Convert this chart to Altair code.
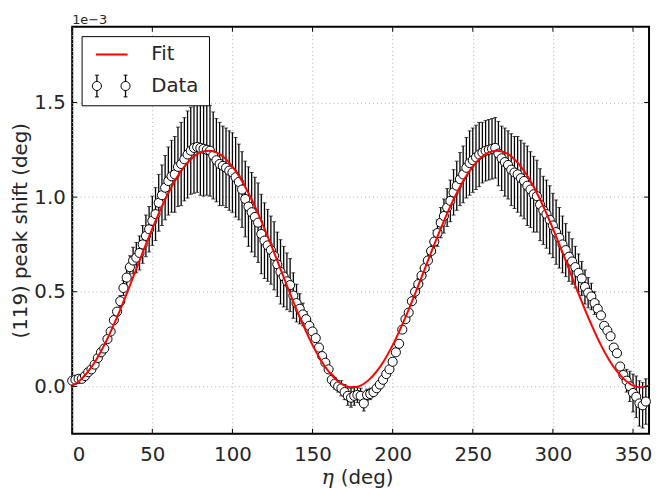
import altair as alt
import pandas as pd

# measured positions (deg)
eta = list(range(0, 360, 2))
# peak shift, units of 1e-3 deg
shift = [
    0.03, 0.035, 0.04, 0.04, 0.055, 0.075, 0.09, 0.115, 0.15, 0.18,
    0.2, 0.25, 0.29, 0.35, 0.395, 0.45, 0.52, 0.575, 0.63, 0.665,
    0.68, 0.705, 0.75, 0.795, 0.83, 0.875, 0.91, 0.97, 1.01, 1.05,
    1.085, 1.11, 1.12, 1.16, 1.175, 1.2, 1.225, 1.245, 1.26, 1.265,
    1.26, 1.255, 1.25, 1.245, 1.22, 1.195, 1.175, 1.165, 1.155, 1.14,
    1.13, 1.105, 1.08, 1.04, 0.99, 0.95, 0.92, 0.895, 0.865, 0.805,
    0.77, 0.745, 0.72, 0.69, 0.645, 0.605, 0.58, 0.555, 0.535, 0.48,
    0.44, 0.41, 0.38, 0.355, 0.32, 0.29, 0.255, 0.205, 0.16, 0.125,
    0.09, 0.035, 0.015, 0.0, -0.01, -0.03, -0.05, -0.06, -0.05, -0.045,
    -0.05, -0.09, -0.045, -0.04, -0.03, -0.01, 0.01, 0.035, 0.065, 0.09,
    0.13, 0.18, 0.225, 0.3, 0.355, 0.39, 0.45, 0.5, 0.54, 0.585,
    0.625, 0.665, 0.715, 0.765, 0.81, 0.865, 0.9, 0.945, 0.98, 1.025,
    1.06, 1.095, 1.12, 1.155, 1.18, 1.195, 1.21, 1.225, 1.235, 1.245,
    1.25, 1.255, 1.26, 1.23, 1.205, 1.185, 1.17, 1.145, 1.13, 1.12,
    1.1, 1.085, 1.06, 1.04, 1.015, 1.005, 0.96, 0.93, 0.91, 0.88,
    0.85, 0.815, 0.785, 0.75, 0.72, 0.685, 0.66, 0.63, 0.6, 0.57,
    0.525, 0.495, 0.475, 0.44, 0.41, 0.375, 0.32, 0.295, 0.265, 0.205,
    0.175, 0.105, 0.06, 0.03, 0.0, -0.035, -0.055, -0.09, -0.1, -0.08,
]
err = [
    0.01, 0.01, 0.01, 0.01, 0.01, 0.01, 0.01, 0.01, 0.01, 0.01,
    0.015, 0.015, 0.02, 0.02, 0.02, 0.03, 0.04, 0.05, 0.06, 0.07,
    0.08, 0.09, 0.1, 0.11, 0.12, 0.13, 0.14, 0.15, 0.16, 0.17,
    0.18, 0.19, 0.2, 0.21, 0.22, 0.22, 0.23, 0.23, 0.24, 0.24,
    0.25, 0.25, 0.24, 0.24, 0.23, 0.22, 0.22, 0.21, 0.21, 0.21,
    0.21, 0.21, 0.2, 0.2, 0.2, 0.21, 0.21, 0.21, 0.21, 0.21,
    0.2, 0.19, 0.18, 0.18, 0.17, 0.17, 0.16, 0.15, 0.14, 0.12,
    0.1, 0.08, 0.06, 0.04, 0.03, 0.02, 0.02, 0.02, 0.02, 0.02,
    0.02, 0.03, 0.03, 0.03, 0.04, 0.04, 0.05, 0.05, 0.05, 0.04,
    0.04, 0.04, 0.03, 0.03, 0.02, 0.02, 0.01, 0.01, 0.01, 0.01,
    0.01, 0.01, 0.01, 0.01, 0.01, 0.02, 0.02, 0.03, 0.03, 0.04,
    0.04, 0.05, 0.05, 0.06, 0.07, 0.08, 0.09, 0.1, 0.11, 0.12,
    0.13, 0.14, 0.15, 0.16, 0.17, 0.17, 0.17, 0.17, 0.16, 0.16,
    0.16, 0.16, 0.16, 0.17, 0.17, 0.18, 0.18, 0.19, 0.19, 0.2,
    0.2, 0.2, 0.21, 0.2, 0.2, 0.19, 0.19, 0.18, 0.18, 0.18,
    0.17, 0.17, 0.16, 0.15, 0.14, 0.13, 0.12, 0.11, 0.1, 0.09,
    0.09, 0.08, 0.07, 0.06, 0.04, 0.02, 0.01, 0.01, 0.01, 0.01,
    0.01, 0.01, 0.02, 0.06, 0.08, 0.1, 0.11, 0.12, 0.12, 0.12,
]

fit_eta = list(range(0, 365, 5))
fit_half = [0.004, 0.033, 0.079, 0.141, 0.218, 0.308, 0.406, 0.511, 0.620,
            0.729, 0.834, 0.933, 1.022, 1.099, 1.161, 1.208, 1.236, 1.245,
            1.236, 1.208, 1.161, 1.099, 1.022, 0.933, 0.834, 0.729, 0.620,
            0.511, 0.406, 0.308, 0.218, 0.141, 0.079, 0.033, 0.004, -0.005]
fit_val = fit_half + fit_half + [0.004]

x_ticks = [0, 50, 100, 150, 200, 250, 300, 350]
y_ticks = [0.0, 0.5, 1.0, 1.5]

FONT = "DejaVu Sans"
TXT = "#262626"
W, H = 584, 412

df = pd.DataFrame({"eta": eta, "shift": shift, "err": err})
df["lo"] = df["shift"] - df["err"]
df["hi"] = df["shift"] + df["err"]
fit_df = pd.DataFrame({"eta": fit_eta, "fit": fit_val})

xs = alt.Scale(domain=[0, 360], nice=False, zero=False)
ys = alt.Scale(domain=[-0.25, 1.9], nice=False, zero=False)

xax = alt.Axis(values=x_ticks, format="d", grid=True, ticks=False, domain=False,
               labelPadding=11, title=None,
               labelFont=FONT, labelFontSize=20, labelColor=TXT,
               gridColor="#b0b0b0", gridDash=[1, 3], gridWidth=1)
yax = alt.Axis(values=y_ticks, format=".1f", grid=True, ticks=False, domain=False,
               labelPadding=7, title="(119) peak shift (deg)", titlePadding=3,
               labelFont=FONT, titleFont=FONT, labelFontSize=20, titleFontSize=20,
               labelColor=TXT, titleColor=TXT, titleFontWeight="normal",
               gridColor="#b0b0b0", gridDash=[1, 3], gridWidth=1)

base = alt.Chart(df)
bars = base.mark_rule(color="black", strokeWidth=1.3).encode(
    x=alt.X("eta:Q", scale=xs, axis=xax),
    y=alt.Y("lo:Q", scale=ys, axis=yax),
    y2="hi:Q",
)
cap_lo = base.mark_tick(color="black", orient="horizontal", size=4, thickness=1).encode(
    x=alt.X("eta:Q", scale=xs), y=alt.Y("lo:Q", scale=ys))
cap_hi = base.mark_tick(color="black", orient="horizontal", size=4, thickness=1).encode(
    x=alt.X("eta:Q", scale=xs), y=alt.Y("hi:Q", scale=ys))
pts = base.mark_point(shape="circle", filled=True, fill="white", stroke="black",
                      strokeWidth=1, size=85, opacity=1).encode(
    x=alt.X("eta:Q", scale=xs), y=alt.Y("shift:Q", scale=ys))
fit = alt.Chart(fit_df).mark_line(color="#ff0000", strokeWidth=2,
                                  interpolate="monotone").encode(
    x=alt.X("eta:Q", scale=xs), y=alt.Y("fit:Q", scale=ys))

# inward tick marks on all four sides
xt = pd.DataFrame({"t": x_ticks})
yt = pd.DataFrame({"t": y_ticks})
tk_b = alt.Chart(xt).mark_rule(color="black", strokeWidth=1).encode(
    x=alt.X("t:Q", scale=xs), y=alt.value(H), y2=alt.value(H - 5))
tk_t = alt.Chart(xt).mark_rule(color="black", strokeWidth=1).encode(
    x=alt.X("t:Q", scale=xs), y=alt.value(0), y2=alt.value(5))
tk_l = alt.Chart(yt).mark_rule(color="black", strokeWidth=1).encode(
    y=alt.Y("t:Q", scale=ys), x=alt.value(0), x2=alt.value(5))
tk_r = alt.Chart(yt).mark_rule(color="black", strokeWidth=1).encode(
    y=alt.Y("t:Q", scale=ys), x=alt.value(W), x2=alt.value(W - 5))

one = alt.Data(values=[{"a": 1}])
offset_txt = alt.Chart(one).mark_text(text="1e−3", font=FONT, fontSize=13,
                                      align="left", baseline="alphabetic", color=TXT).encode(
    x=alt.value(0), y=alt.value(-3))

# x-axis title with italic eta, as in the reference
x_eta = alt.Chart(one).mark_text(text="η", font="DejaVu Serif", fontStyle="italic",
                                 fontSize=21, align="right", baseline="alphabetic",
                                 color=TXT).encode(
    x=alt.value(W / 2 - 27), y=alt.value(H + 51))
x_deg = alt.Chart(one).mark_text(text="(deg)", font=FONT, fontSize=20, align="left",
                                 baseline="alphabetic", color=TXT).encode(
    x=alt.value(W / 2 - 20), y=alt.value(H + 51))

# legend
leg_box = alt.Chart(one).mark_rect(fill="white", stroke="black", strokeWidth=1).encode(
    x=alt.value(10), x2=alt.value(139), y=alt.value(10), y2=alt.value(80))
leg_line = alt.Chart(one).mark_rule(color="#ff0000", strokeWidth=2).encode(
    x=alt.value(24), x2=alt.value(56), y=alt.value(28))
leg_fit = alt.Chart(one).mark_text(text="Fit", font=FONT, fontSize=20, align="left",
                                   baseline="middle", color=TXT).encode(
    x=alt.value(80), y=alt.value(28))
leg_data = alt.Chart(one).mark_text(text="Data", font=FONT, fontSize=20, align="left",
                                    baseline="middle", color=TXT).encode(
    x=alt.value(80), y=alt.value(60))
leg_parts = []
for px in (25, 54):
    leg_parts.append(alt.Chart(one).mark_rule(color="black", strokeWidth=1.3).encode(
        x=alt.value(px), y=alt.value(49), y2=alt.value(71)))
    leg_parts.append(alt.Chart(one).mark_rule(color="black", strokeWidth=1).encode(
        x=alt.value(px - 2), x2=alt.value(px + 2), y=alt.value(49)))
    leg_parts.append(alt.Chart(one).mark_rule(color="black", strokeWidth=1).encode(
        x=alt.value(px - 2), x2=alt.value(px + 2), y=alt.value(71)))
    leg_parts.append(alt.Chart(one).mark_point(shape="circle", filled=True, fill="white",
                                               stroke="black", strokeWidth=1, size=85,
                                               opacity=1).encode(
        x=alt.value(px), y=alt.value(60)))

chart = alt.layer(
    bars, cap_lo, cap_hi, pts, fit, tk_b, tk_t, tk_l, tk_r, offset_txt, x_eta, x_deg,
    leg_box, leg_line, leg_fit, leg_data, *leg_parts
).properties(
    width=W, height=H,
    background="white",
    autosize=alt.AutoSizeParams(type="none"),
    padding={"left": 65, "top": 16, "right": 3, "bottom": 53},
).configure_view(
    stroke="black", strokeWidth=2
)

chart.save("out.html", embed_options={"renderer": "svg", "actions": False})
